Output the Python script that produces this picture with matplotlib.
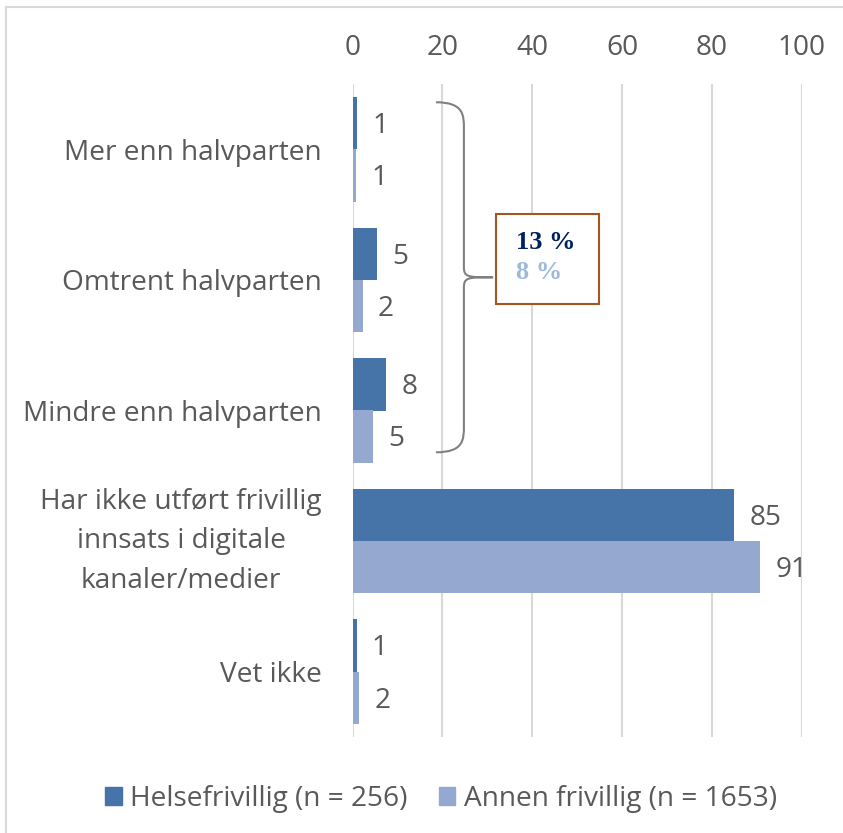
import matplotlib.pyplot as plt
from matplotlib.path import Path
from matplotlib.patches import PathPatch, Rectangle
from matplotlib.lines import Line2D
import numpy as np

# Data
categories = ["Mer enn halvparten", "Omtrent halvparten", "Mindre enn halvparten",
              "Har ikke utført frivillig\ninnsats i digitale\nkanaler/medier", "Vet ikke"]
helse = [1.0, 5.4, 7.5, 85.0, 0.9]
annen = [0.8, 2.3, 4.6, 90.8, 1.5]
helse_labels = ["1", "5", "8", "85", "1"]
annen_labels = ["1", "2", "5", "91", "2"]
series_names = ["Helsefrivillig (n = 256)", "Annen frivillig (n = 1653)"]
sum_labels = ["13 %", "8 %"]

dark = "#4673A8"
light = "#95A9D0"
txt = "#595959"
fs = 20.2

plt.rcParams['font.family'] = ['Open Sans', 'DejaVu Sans']

fig = plt.figure(figsize=(8.43, 8.33), dpi=100)
ax = fig.add_axes([352.5 / 843, 1 - 737 / 833, 449.2 / 843, 653 / 833])

y = np.arange(len(categories))
h = 0.4
ax.barh(y - h / 2, helse, height=h, color=dark, zorder=3)
ax.barh(y + h / 2, annen, height=h, color=light, zorder=3)

for i in range(len(categories)):
    ax.annotate(helse_labels[i], (helse[i], y[i] - h / 2), xytext=(11, -2),
                textcoords='offset points', va='center', ha='left', fontsize=fs, color=txt)
    ax.annotate(annen_labels[i], (annen[i], y[i] + h / 2), xytext=(11, -2),
                textcoords='offset points', va='center', ha='left', fontsize=fs, color=txt)

ax.set_xlim(0, 100)
ax.set_ylim(len(categories) - 0.5, -0.5)
ax.set_xticks(range(0, 101, 20))
ax.xaxis.tick_top()
ax.tick_params(axis='x', length=0, pad=16, labelsize=fs, labelcolor=txt)
ax.set_yticks(y)
ax.set_yticklabels(categories)
ax.tick_params(axis='y', length=0, labelsize=fs, labelcolor=txt, pad=22)
for lab in ax.get_yticklabels():
    lab.set_horizontalalignment('right')
    lab.set_multialignment('center')
    if "\n" in lab.get_text():
        lab.set_verticalalignment('center')
        lab.set_linespacing(1.55)
ax.grid(axis='x', color='#D9D9D9', linewidth=1.5, zorder=0)
for s in ax.spines.values():
    s.set_visible(False)

# curly brace over the first three categories
top = y[0] - 0.36
bot = y[2] + 0.32
mid = (top + bot) / 2
x0, x1, xt = 18.6, 24.8, 31.3
c = 0.1
verts = [(x0, top), (x1, top), (x1, top + c), (x1, top + 2 * c),
         (x1, mid - 0.08),
         (x1, mid), (x1 + 0.8, mid), (xt, mid),
         (x1 + 0.8, mid), (x1, mid), (x1, mid + 0.08),
         (x1, bot - 2 * c),
         (x1, bot - c), (x1, bot), (x0, bot)]
codes = [Path.MOVETO, Path.CURVE4, Path.CURVE4, Path.CURVE4,
         Path.LINETO,
         Path.CURVE4, Path.CURVE4, Path.CURVE4,
         Path.CURVE4, Path.CURVE4, Path.CURVE4,
         Path.LINETO,
         Path.CURVE4, Path.CURVE4, Path.CURVE4]
ax.add_patch(PathPatch(Path(verts, codes), fill=False, edgecolor='#808080',
                       linewidth=1.5, zorder=4, clip_on=False))

ax.add_patch(Rectangle((31.9, 0.495), 23.0, 0.69, fill=True, facecolor='white',
                       edgecolor='#A5561C', linewidth=1.5, zorder=5))
ax.text(36.5, 0.71, sum_labels[0], fontsize=19, fontweight='bold', color='#002060',
        family=['Liberation Serif'], va='center', ha='left', zorder=6)
ax.text(36.5, 0.94, sum_labels[1], fontsize=19, fontweight='bold', color='#9DB8DD',
        family=['Liberation Serif'], va='center', ha='left', zorder=6)

handles = [Rectangle((0, 0), 1, 1, color=dark), Rectangle((0, 0), 1, 1, color=light)]
fig.legend(handles, series_names, loc='center', bbox_to_anchor=(0.523, 1 - 799 / 833),
           ncol=2, frameon=False, fontsize=fs, labelcolor=txt,
           handlelength=0.6, handleheight=0.6, handletextpad=0.3, columnspacing=1.1)

# chart area border (top and left visible)
fig.add_artist(Line2D([6 / 843, 1], [1 - 7 / 833, 1 - 7 / 833], color='#D9D9D9', lw=1.5))
fig.add_artist(Line2D([6 / 843, 6 / 843], [0, 1 - 7 / 833], color='#D9D9D9', lw=1.5))

fig.savefig("out.png", dpi=100, facecolor='white')
